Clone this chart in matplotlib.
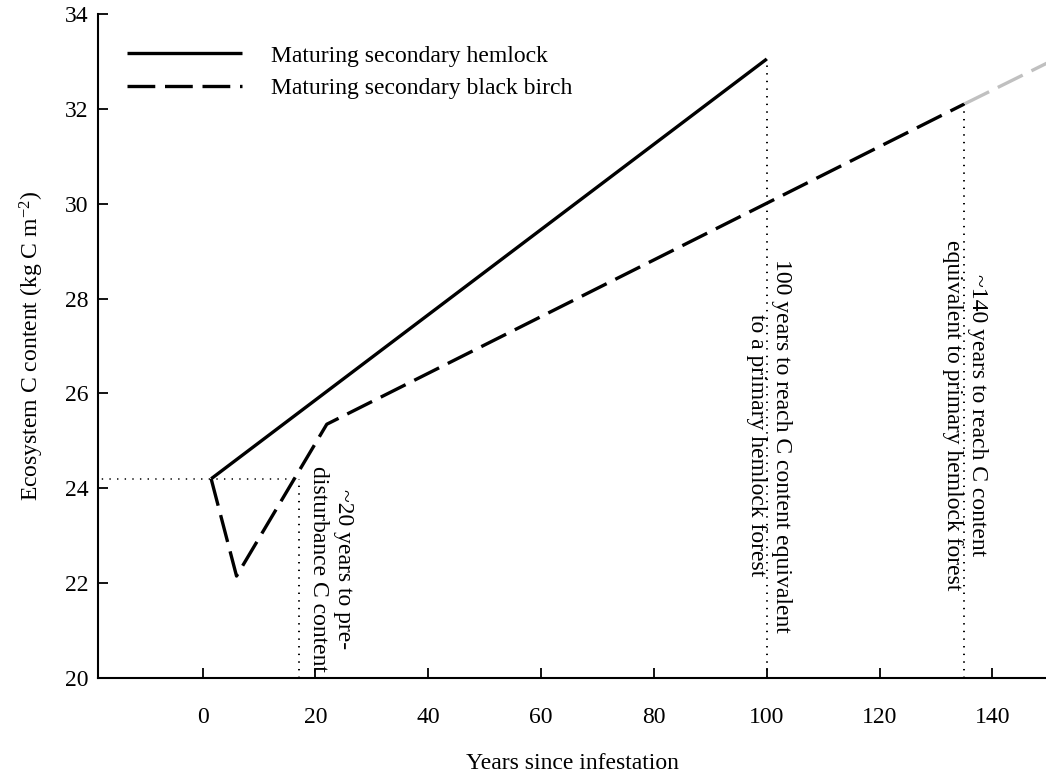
import numpy as np
import matplotlib
matplotlib.use("Agg")
import matplotlib.pyplot as plt

plt.rcParams['font.family'] = ['Liberation Serif', 'DejaVu Serif']
plt.rcParams['mathtext.fontset'] = 'custom'
plt.rcParams['mathtext.rm'] = 'Liberation Serif'
plt.rcParams['mathtext.it'] = 'Liberation Serif:italic'
plt.rcParams['lines.scale_dashes'] = False

# hemlock: solid line
hemlock_x = [1.5, 100]
hemlock_y = [24.2, 33.05]

# black birch: dashed line
birch_x = [1.5, 6, 22, 135]
birch_y = [24.2, 22.15, 25.35, 32.1]

# projected continuation of black birch (grey)
proj_x = [135, 152]
proj_y = [32.1, 33.1]

# reference lines
pre_level = 24.2
cross_x = [17, 100, 135]
cross_top = [24.2, 33.05, 32.1]

notes = [
    "~20 years to pre-\ndisturbance C content",
    "100 years to reach C content equivalent\nto a primary hemlock forest",
    "~140 years to reach C content\nequivalent to primary hemlock forest",
]
note_x = [22.8, 100.4, 135.1]
note_y = [22.3, 24.9, 25.55]

FS = 17

fig = plt.figure(figsize=(10.46, 7.74), dpi=100)
ax = fig.add_axes([0.094, 0.124, 0.906, 0.858])

dash = (20, 7)
ax.plot(hemlock_x, hemlock_y, color='black', lw=2.4,
        label='Maturing secondary hemlock', solid_capstyle='butt')
ax.plot(birch_x, birch_y, color='black', lw=2.4, dashes=dash,
        label='Maturing secondary black birch')
ax.plot(proj_x, proj_y, color='#c0c0c0', lw=2.4, dashes=dash)

dot = dict(color='black', lw=1.4, dashes=(1, 4.5))
ax.plot([-30, cross_x[0]], [pre_level, pre_level], color='black', lw=1.1, dashes=(1, 4.5))
for cx, ct in zip(cross_x, cross_top):
    ax.plot([cx, cx], [20, ct], **dot)

for txt, tx, ty in zip(notes, note_x, note_y):
    ax.text(tx, ty, txt, rotation=-90, ha='center', va='center',
            multialignment='center', fontsize=FS, linespacing=1.25)

ax.set_xlim(-18.5, 149.5)
ax.set_ylim(20, 34)
ax.set_xticks(np.arange(0, 141, 20))
ax.set_yticks(np.arange(20, 35, 2))

for s in ['top', 'right']:
    ax.spines[s].set_visible(False)
for s in ['left', 'bottom']:
    ax.spines[s].set_linewidth(1.5)

ax.tick_params(axis='both', direction='in', length=7, width=1.3, labelsize=FS)
ax.tick_params(axis='x', pad=21)
ax.tick_params(axis='y', pad=7)

ax.set_xlabel('Years since infestation', fontsize=FS, labelpad=18)
ax.set_ylabel('Ecosystem C content (kg C m$^{-2}$)', fontsize=FS, labelpad=14)

ax.legend(loc='upper left', bbox_to_anchor=(0.03, 0.953), frameon=False,
          borderpad=0, borderaxespad=0,
          fontsize=FS, handlelength=4.9, handletextpad=1.2, labelspacing=0.45)

fig.savefig('out.png', dpi=100)
